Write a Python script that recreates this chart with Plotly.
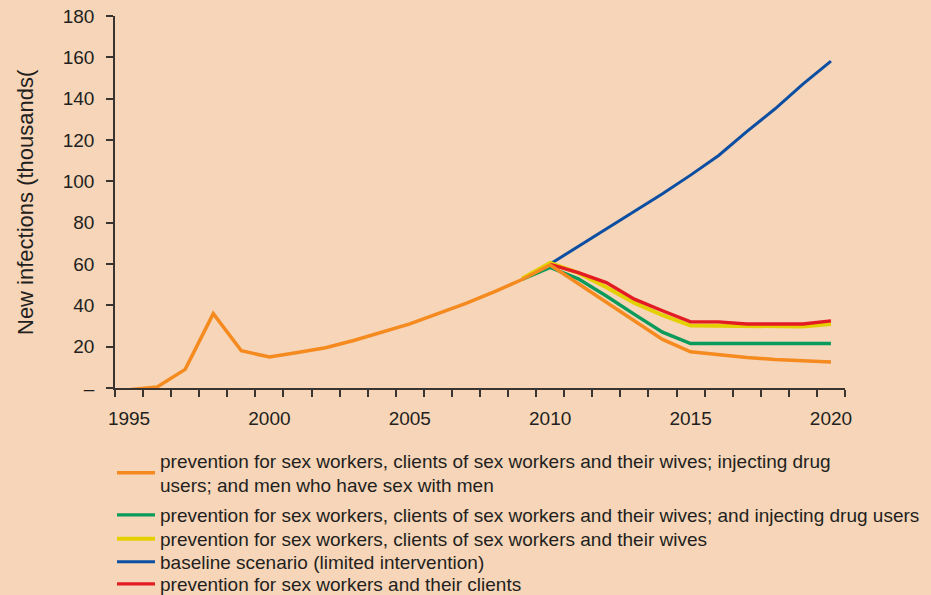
"""New HIV infections under prevention scenarios, 1995-2020."""
import plotly.graph_objects as go

# --- data (thousands of new infections) ---
years_hist = list(range(1995, 2021))
full_prev = [-0.8, 0.5, 9, 36, 18, 15, 17.2, 19.5, 23, 27, 31, 36, 41, 46.5, 52.5,
             59.5, 50.5, 41.5, 32.5, 23.5, 17.5, 16, 14.8, 13.8, 13.1, 12.6]

years_from_2009 = list(range(2009, 2021))
sw_idu = [52.5, 58.3, 52.8, 44.5, 35.6, 27, 21.5, 21.5, 21.5, 21.5, 21.5, 21.5]
sw_wives = [53, 60.5, 55.7, 48.8, 41.2, 35.2, 30.2, 30, 29.8, 29.8, 29.8, 31]

years_from_2010 = list(range(2010, 2021))
baseline = [60, 68.5, 77, 85.5, 94, 103, 112.5, 124, 135, 147, 158.2]
sw_clients = [59.8, 55.8, 51, 43, 37.4, 32, 32, 31, 31, 31, 32.5]

y_ticks = [0, 20, 40, 60, 80, 100, 120, 140, 160, 180]
y_ticktext = ["–", "20", "40", "60", "80", "100", "120", "140", "160", "180"]
x_ticks = [1995, 2000, 2005, 2010, 2015, 2020]
y_title = "New infections (thousands("

names = {
    "full": "prevention for sex workers, clients of sex workers and their wives; injecting drug<br>users; and men who have sex with men",
    "idu": "prevention for sex workers, clients of sex workers and their wives; and injecting drug users",
    "wives": "prevention for sex workers, clients of sex workers and their wives",
    "base": "baseline scenario (limited intervention)",
    "clients": "prevention for sex workers and their clients",
}

BG = "#F6D5B8"
INK = "#231F20"
AXIS = "#3A3431"
FONT = "Liberation Sans, Arial, sans-serif"

fig = go.Figure()
# draw order: blue at the back, orange on top
fig.add_trace(go.Scatter(x=years_from_2010, y=baseline, mode="lines", name=names["base"],
                         line=dict(color="#0C4EA2", width=3), legend="legend4"))
fig.add_trace(go.Scatter(x=years_from_2009, y=sw_idu, mode="lines", name=names["idu"],
                         line=dict(color="#0A9B5C", width=3.4), legend="legend2"))
fig.add_trace(go.Scatter(x=years_from_2009, y=sw_wives, mode="lines", name=names["wives"],
                         line=dict(color="#E4D000", width=4), legend="legend3"))
fig.add_trace(go.Scatter(x=years_from_2010, y=sw_clients, mode="lines", name=names["clients"],
                         line=dict(color="#E31B23", width=3.4), legend="legend5"))
fig.add_trace(go.Scatter(x=years_hist, y=full_prev, mode="lines", name=names["full"],
                         line=dict(color="#F58A1F", width=3.5), legend="legend"))


def legend_at(py):
    # one legend per entry so the rows can sit as tightly as in the original
    return dict(
        x=112 / 931, xref="container", xanchor="left",
        y=1 - py / 595, yref="container", yanchor="middle",
        bgcolor="rgba(0,0,0,0)", borderwidth=0, itemwidth=38,
        font=dict(family=FONT, size=19, color=INK),
    )


fig.update_layout(
    width=931,
    height=595,
    paper_bgcolor=BG,
    plot_bgcolor=BG,
    font=dict(family=FONT, size=19, color=INK),
    margin=dict(l=115, r=86, t=16, b=207, autoexpand=False),
    showlegend=True,
    legend=legend_at(473),
    legend2=legend_at(515),
    legend3=legend_at(539),
    legend4=legend_at(562),
    legend5=legend_at(584),
)

fig.update_xaxes(
    range=[1994.5, 2020.5],
    tickmode="array", tickvals=x_ticks, ticks="",
    ticklabelstandoff=12,
    minor=dict(tickmode="linear", tick0=1994.5, dtick=1, ticks="outside",
               ticklen=7, tickwidth=1.5, tickcolor=AXIS, showgrid=False),
    showline=True, linecolor=AXIS, linewidth=1.5,
    showgrid=False, zeroline=False,
    tickfont=dict(size=19, color=INK),
)
fig.update_yaxes(
    range=[0, 180],
    tickmode="array", tickvals=y_ticks, ticktext=y_ticktext,
    ticks="outside", ticklen=7, tickwidth=1.5, tickcolor=AXIS,
    ticklabelstandoff=8,
    showline=True, linecolor=AXIS, linewidth=1.5,
    showgrid=False, zeroline=False,
    tickfont=dict(size=19, color=INK),
)

# y-axis title as a rotated annotation (the axis title lands on the wrong side here)
fig.add_annotation(
    text=y_title, textangle=-90,
    xref="paper", x=(25 - 115) / 730, xanchor="center",
    yref="paper", y=0.5, yanchor="middle",
    showarrow=False, font=dict(family=FONT, size=22, color=INK),
)

fig.write_html("out.html", config={"displayModeBar": False},
               post_script="document.body.style.margin = '0';")
